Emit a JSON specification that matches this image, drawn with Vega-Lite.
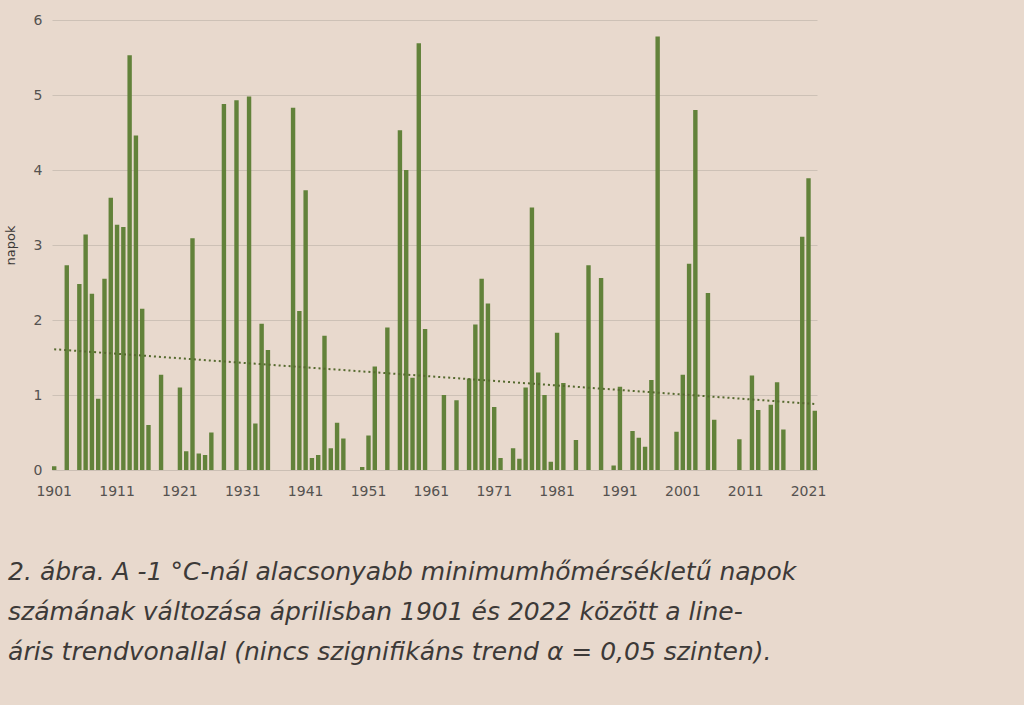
{
  "$schema": "https://vega.github.io/schema/vega-lite/v6.json",
  "width": 765,
  "height": 450,
  "autosize": {"type": "none"},
  "padding": {"left": 52, "top": 20, "right": 207, "bottom": 235},
  "background": "#e8d9cd",
  "config": {
    "view": {"stroke": null},
    "font": "DejaVu Sans"
  },
  "datasets": {
    "april": [
      {"year": 1901, "days": 0.05}, {"year": 1902, "days": 0}, {"year": 1903, "days": 2.73}, {"year": 1904, "days": 0},
      {"year": 1905, "days": 2.48}, {"year": 1906, "days": 3.14}, {"year": 1907, "days": 2.35}, {"year": 1908, "days": 0.95},
      {"year": 1909, "days": 2.55}, {"year": 1910, "days": 3.63}, {"year": 1911, "days": 3.27}, {"year": 1912, "days": 3.24},
      {"year": 1913, "days": 5.53}, {"year": 1914, "days": 4.46}, {"year": 1915, "days": 2.15}, {"year": 1916, "days": 0.6},
      {"year": 1917, "days": 0}, {"year": 1918, "days": 1.27}, {"year": 1919, "days": 0}, {"year": 1920, "days": 0},
      {"year": 1921, "days": 1.1}, {"year": 1922, "days": 0.25}, {"year": 1923, "days": 3.09}, {"year": 1924, "days": 0.22},
      {"year": 1925, "days": 0.2}, {"year": 1926, "days": 0.5}, {"year": 1927, "days": 0}, {"year": 1928, "days": 4.88},
      {"year": 1929, "days": 0}, {"year": 1930, "days": 4.93}, {"year": 1931, "days": 0}, {"year": 1932, "days": 4.98},
      {"year": 1933, "days": 0.62}, {"year": 1934, "days": 1.95}, {"year": 1935, "days": 1.6}, {"year": 1936, "days": 0},
      {"year": 1937, "days": 0}, {"year": 1938, "days": 0}, {"year": 1939, "days": 4.83}, {"year": 1940, "days": 2.12},
      {"year": 1941, "days": 3.73}, {"year": 1942, "days": 0.16}, {"year": 1943, "days": 0.2}, {"year": 1944, "days": 1.79},
      {"year": 1945, "days": 0.29}, {"year": 1946, "days": 0.63}, {"year": 1947, "days": 0.42}, {"year": 1948, "days": 0},
      {"year": 1949, "days": 0}, {"year": 1950, "days": 0.04}, {"year": 1951, "days": 0.46}, {"year": 1952, "days": 1.38},
      {"year": 1953, "days": 0}, {"year": 1954, "days": 1.9}, {"year": 1955, "days": 0}, {"year": 1956, "days": 4.53},
      {"year": 1957, "days": 4.0}, {"year": 1958, "days": 1.23}, {"year": 1959, "days": 5.69}, {"year": 1960, "days": 1.88},
      {"year": 1961, "days": 0}, {"year": 1962, "days": 0}, {"year": 1963, "days": 1.0}, {"year": 1964, "days": 0},
      {"year": 1965, "days": 0.93}, {"year": 1966, "days": 0}, {"year": 1967, "days": 1.22}, {"year": 1968, "days": 1.94},
      {"year": 1969, "days": 2.55}, {"year": 1970, "days": 2.22}, {"year": 1971, "days": 0.84}, {"year": 1972, "days": 0.16},
      {"year": 1973, "days": 0}, {"year": 1974, "days": 0.29}, {"year": 1975, "days": 0.15}, {"year": 1976, "days": 1.1},
      {"year": 1977, "days": 3.5}, {"year": 1978, "days": 1.3}, {"year": 1979, "days": 1.0}, {"year": 1980, "days": 0.11},
      {"year": 1981, "days": 1.83}, {"year": 1982, "days": 1.16}, {"year": 1983, "days": 0}, {"year": 1984, "days": 0.4},
      {"year": 1985, "days": 0}, {"year": 1986, "days": 2.73}, {"year": 1987, "days": 0}, {"year": 1988, "days": 2.56},
      {"year": 1989, "days": 0}, {"year": 1990, "days": 0.06}, {"year": 1991, "days": 1.11}, {"year": 1992, "days": 0},
      {"year": 1993, "days": 0.52}, {"year": 1994, "days": 0.43}, {"year": 1995, "days": 0.31}, {"year": 1996, "days": 1.2},
      {"year": 1997, "days": 5.78}, {"year": 1998, "days": 0}, {"year": 1999, "days": 0}, {"year": 2000, "days": 0.51},
      {"year": 2001, "days": 1.27}, {"year": 2002, "days": 2.75}, {"year": 2003, "days": 4.8}, {"year": 2004, "days": 0},
      {"year": 2005, "days": 2.36}, {"year": 2006, "days": 0.67}, {"year": 2007, "days": 0}, {"year": 2008, "days": 0},
      {"year": 2009, "days": 0}, {"year": 2010, "days": 0.41}, {"year": 2011, "days": 0}, {"year": 2012, "days": 1.26},
      {"year": 2013, "days": 0.8}, {"year": 2014, "days": 0}, {"year": 2015, "days": 0.87}, {"year": 2016, "days": 1.17},
      {"year": 2017, "days": 0.54}, {"year": 2018, "days": 0}, {"year": 2019, "days": 0}, {"year": 2020, "days": 3.11},
      {"year": 2021, "days": 3.89}, {"year": 2022, "days": 0.79}
    ],
    "trend": [
      {"year": 1901, "days": 1.61},
      {"year": 2022, "days": 0.88}
    ]
  },
  "title": {
    "text": [
      "2. ábra. A  -1 °C-nál alacsonyabb minimumhőmérsékletű napok",
      "számának változása áprilisban 1901 és 2022 között a line-",
      "áris trendvonallal (nincs szignifikáns trend α = 0,05 szinten)."
    ],
    "orient": "bottom",
    "anchor": "start",
    "frame": "bounds",
    "offset": 62,
    "dx": 4,
    "baseline": "top",
    "font": "DejaVu Sans",
    "fontStyle": "italic",
    "fontWeight": "normal",
    "fontSize": 25,
    "lineHeight": 40,
    "color": "#3d3a38"
  },
  "encoding": {
    "x": {
      "field": "year",
      "type": "ordinal",
      "scale": {"paddingInner": 0.3, "paddingOuter": 0},
      "axis": {
        "title": null,
        "values": [1901, 1911, 1921, 1931, 1941, 1951, 1961, 1971, 1981, 1991, 2001, 2011, 2021],
        "labelAngle": 0,
        "labelFontSize": 14,
        "labelColor": "#555250",
        "labelPadding": 14,
        "ticks": false,
        "domainColor": "#cbbfb4",
        "domainWidth": 1
      }
    },
    "y": {
      "field": "days",
      "type": "quantitative",
      "scale": {"domain": [0, 6], "nice": false},
      "axis": {
        "title": "napok",
        "titleFontSize": 13,
        "titleFontWeight": "normal",
        "titleColor": "#3d3a38",
        "titlePadding": 16,
        "values": [0, 1, 2, 3, 4, 5, 6],
        "labelFontSize": 14,
        "labelColor": "#555250",
        "labelPadding": 10,
        "ticks": false,
        "domain": false,
        "gridColor": "#cdc1b6",
        "gridWidth": 1
      }
    }
  },
  "layer": [
    {
      "data": {"name": "april"},
      "mark": {"type": "bar", "color": "#62823a"}
    },
    {
      "data": {"name": "trend"},
      "mark": {"type": "line", "color": "#55692e", "strokeWidth": 2, "strokeDash": [2, 3]}
    }
  ]
}
